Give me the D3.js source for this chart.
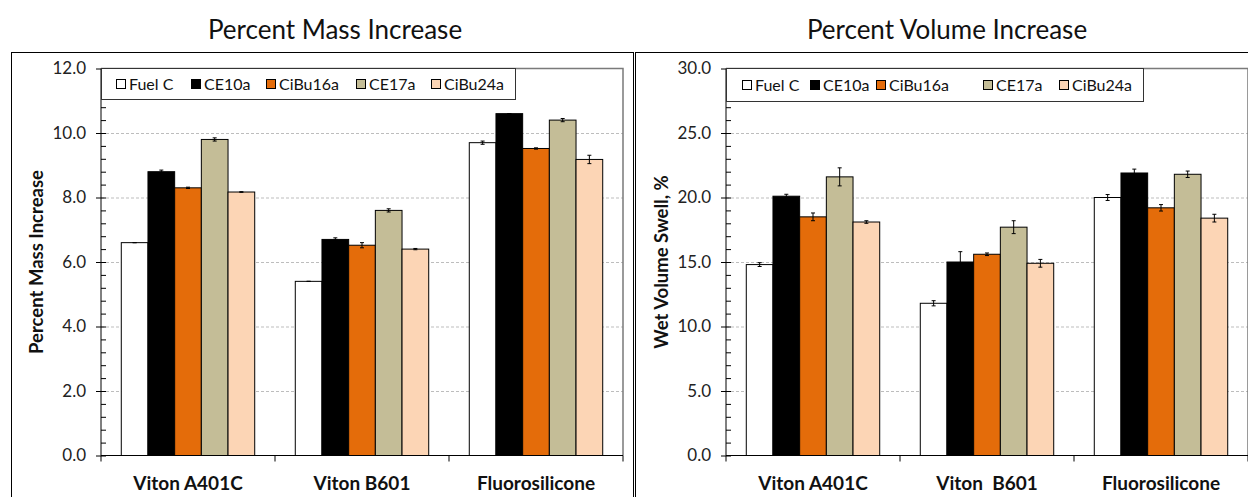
<!DOCTYPE html>
<html>
<head>
<meta charset="utf-8">
<script src="https://cdn.jsdelivr.net/npm/d3@7"></script>
<style>
  body { margin: 0; background: #fff; }
  svg { display: block; font-family: Lato, "Open Sans", sans-serif; }
</style>
</head>
<body>
<script>
// categories and series
const categories = ["Viton A401C", "Viton B601", "Fluorosilicone"];
const swellLabels = ["Viton A401C", "Viton  B601", "Fluorosilicone"];
const fuels = ["Fuel C", "CE10a", "CiBu16a", "CE17a", "CiBu24a"];
const fuelColors = ["#ffffff", "#000000", "#e46c0a", "#c4bd97", "#fcd5b5"];

// percent mass increase, one row per fuel
const massValues = [
    [6.60, 5.40, 9.70],
    [8.80, 6.70, 10.60],
    [8.30, 6.52, 9.52],
    [9.80, 7.60, 10.40],
    [8.17, 6.40, 9.18]
];
const massErrors = [
    [0.00, 0.00, 0.05],
    [0.05, 0.05, 0.00],
    [0.02, 0.08, 0.02],
    [0.05, 0.05, 0.05],
    [0.01, 0.02, 0.13]
];

// wet volume swell, one row per fuel
const swellValues = [
    [14.8, 11.8, 20.0],
    [20.1, 15.0, 21.9],
    [18.5, 15.6, 19.2],
    [21.6, 17.7, 21.8],
    [18.1, 14.9, 18.4]
];
const swellErrors = [
    [0.15, 0.20, 0.23],
    [0.15, 0.80, 0.30],
    [0.30, 0.10, 0.25],
    [0.70, 0.50, 0.25],
    [0.10, 0.30, 0.30]
];

const massTicks = [0, 2, 4, 6, 8, 10, 12];
const swellTicks = [0, 5, 10, 15, 20, 25, 30];

let w = 1248,
    h = 497;

let svg = d3.select("body")
    .append("svg")
    .attr("width", w)
    .attr("height", h);

function drawPanel(cfg) {
    let g = svg.append("g");

    // outer frame
    g.append("rect")
        .attr("x", cfg.frame[0] + 0.5)
        .attr("y", 52.5)
        .attr("width", cfg.frame[1])
        .attr("height", 500)
        .attr("fill", "none")
        .attr("stroke", "#000");

    // title
    g.append("text")
        .attr("x", cfg.titleX)
        .attr("y", 39)
        .attr("text-anchor", "middle")
        .attr("font-size", 26)
        .attr("fill", "#111")
        .text(cfg.title);

    let left = cfg.left,
        right = left + 522,
        top = 68.5,
        bottom = 455.5;

    let y = d3.scaleLinear()
        .domain([0, cfg.max])
        .range([bottom, top]);

    let x0 = d3.scaleBand()
        .domain(categories)
        .range([left, right]);

    let x1 = d3.scaleBand()
        .domain(fuels)
        .range([0, x0.bandwidth()])
        .paddingOuter(0.76);

    // gridlines
    g.append("g")
        .attr("transform", `translate(${left},0)`)
        .call(d3.axisLeft(y).tickValues(cfg.ticks.slice(1, -1)).tickSize(-(right - left)).tickFormat(""))
        .call(a => a.select(".domain").remove())
        .call(a => a.selectAll("line")
            .attr("stroke", "#bdbdbd")
            .attr("stroke-dasharray", "3,2"));

    // plot area border
    g.append("path")
        .attr("d", `M${left},${top}H${right}V${bottom}`)
        .attr("fill", "none")
        .attr("stroke", "#7a7a7a")
        .attr("stroke-width", 1.5);

    // bars
    let groups = g.selectAll(".grp")
        .data(categories)
        .enter()
        .append("g")
        .attr("transform", d => `translate(${x0(d)},0)`);

    groups.selectAll("rect")
        .data((c, ci) => fuels.map((f, fi) => ({ fuel: f, fi: fi, v: cfg.values[fi][ci], e: cfg.errors[fi][ci] })))
        .enter()
        .append("rect")
        .attr("x", d => x1(d.fuel))
        .attr("y", d => y(d.v))
        .attr("width", x1.bandwidth())
        .attr("height", d => y(0) - y(d.v))
        .attr("fill", d => fuelColors[d.fi])
        .attr("stroke", "#000")
        .attr("stroke-width", 1);

    // error bars
    let err = groups.selectAll(".err")
        .data((c, ci) => fuels.map((f, fi) => ({ fuel: f, v: cfg.values[fi][ci], e: cfg.errors[fi][ci] })))
        .enter()
        .append("g")
        .attr("stroke", "#000")
        .attr("stroke-width", 1);

    err.append("line")
        .attr("x1", d => x1(d.fuel) + x1.bandwidth() / 2)
        .attr("x2", d => x1(d.fuel) + x1.bandwidth() / 2)
        .attr("y1", d => y(d.v + d.e))
        .attr("y2", d => y(d.v - d.e));
    [1, -1].forEach(s => {
        err.append("line")
            .attr("x1", d => x1(d.fuel) + x1.bandwidth() / 2 - 2)
            .attr("x2", d => x1(d.fuel) + x1.bandwidth() / 2 + 2)
            .attr("y1", d => y(d.v + s * d.e))
            .attr("y2", d => y(d.v + s * d.e));
    });

    // y axis, major ticks outside with labels
    let minor = d3.range(0, cfg.max + 1e-9, cfg.max / 30);
    g.append("g")
        .attr("transform", `translate(${left},0)`)
        .call(d3.axisLeft(y).tickValues(cfg.ticks).tickSize(5).tickPadding(10).tickFormat(d3.format(".1f")))
        .call(a => a.selectAll("text").attr("font-size", 17).attr("fill", "#222").attr("font-family", "Lato"))
        .call(a => a.select(".domain").attr("d", `M0,${top}V${bottom}`));

    // minor ticks inside
    g.append("g")
        .attr("transform", `translate(${left},0)`)
        .call(d3.axisRight(y).tickValues(minor).tickSize(5).tickFormat(""))
        .call(a => a.select(".domain").remove());

    // x axis
    let bounds = categories.map(c => x0(c)).concat([right]);
    g.append("line")
        .attr("x1", left).attr("x2", right)
        .attr("y1", bottom).attr("y2", bottom)
        .attr("stroke", "#000");
    g.selectAll(".xt")
        .data(bounds)
        .enter()
        .append("line")
        .attr("x1", d => d).attr("x2", d => d)
        .attr("y1", bottom).attr("y2", bottom + 6)
        .attr("stroke", "#000");

    g.selectAll(".xl")
        .data(categories)
        .enter()
        .append("text")
        .attr("x", d => x0(d) + x0.bandwidth() / 2)
        .attr("y", 490)
        .attr("text-anchor", "middle")
        .attr("font-size", 19)
        .attr("font-weight", "bold")
        .attr("fill", "#111")
        .style("white-space", "pre")
        .text((d, i) => cfg.labels[i]);

    // y axis title
    g.append("text")
        .attr("transform", `translate(${cfg.yTitleX},${(top + bottom) / 2}) rotate(-90)`)
        .attr("text-anchor", "middle")
        .attr("font-size", 18.5)
        .attr("font-weight", "bold")
        .attr("fill", "#111")
        .text(cfg.yTitle);

    // legend
    let lg = g.append("g");
    lg.append("rect")
        .attr("x", left + 0.5)
        .attr("y", top)
        .attr("width", cfg.legendW)
        .attr("height", cfg.legendH)
        .attr("fill", "#fff")
        .attr("stroke", "#333");
    let item = lg.selectAll(".li")
        .data(fuels)
        .enter()
        .append("g")
        .attr("transform", (d, i) => `translate(${left + cfg.legendX[i]},${top + cfg.legendH / 2})`);
    item.append("rect")
        .attr("x", 0.5).attr("y", -4.5)
        .attr("width", 9).attr("height", 9)
        .attr("fill", (d, i) => fuelColors[i])
        .attr("stroke", "#000");
    item.append("text")
        .attr("x", 13)
        .attr("y", 6)
        .attr("font-size", 16)
        .attr("fill", "#111")
        .text(d => d);
}

drawPanel({
    frame: [11, 622],
    title: "Percent Mass Increase",
    titleX: 335,
    left: 101,
    max: 12,
    ticks: massTicks,
    values: massValues,
    errors: massErrors,
    labels: categories,
    yTitle: "Percent Mass Increase",
    yTitleX: 43,
    legendW: 414,
    legendH: 31,
    legendX: [15, 90, 165, 255, 330]
});

drawPanel({
    frame: [635, 700],
    title: "Percent Volume Increase",
    titleX: 947,
    left: 726,
    max: 30,
    ticks: swellTicks,
    values: swellValues,
    errors: swellErrors,
    labels: swellLabels,
    yTitle: "Wet Volume Swell, %",
    yTitleX: 668,
    legendW: 417,
    legendH: 33,
    legendX: [16, 84, 150, 257, 333]
});
</script>
</body>
</html>
